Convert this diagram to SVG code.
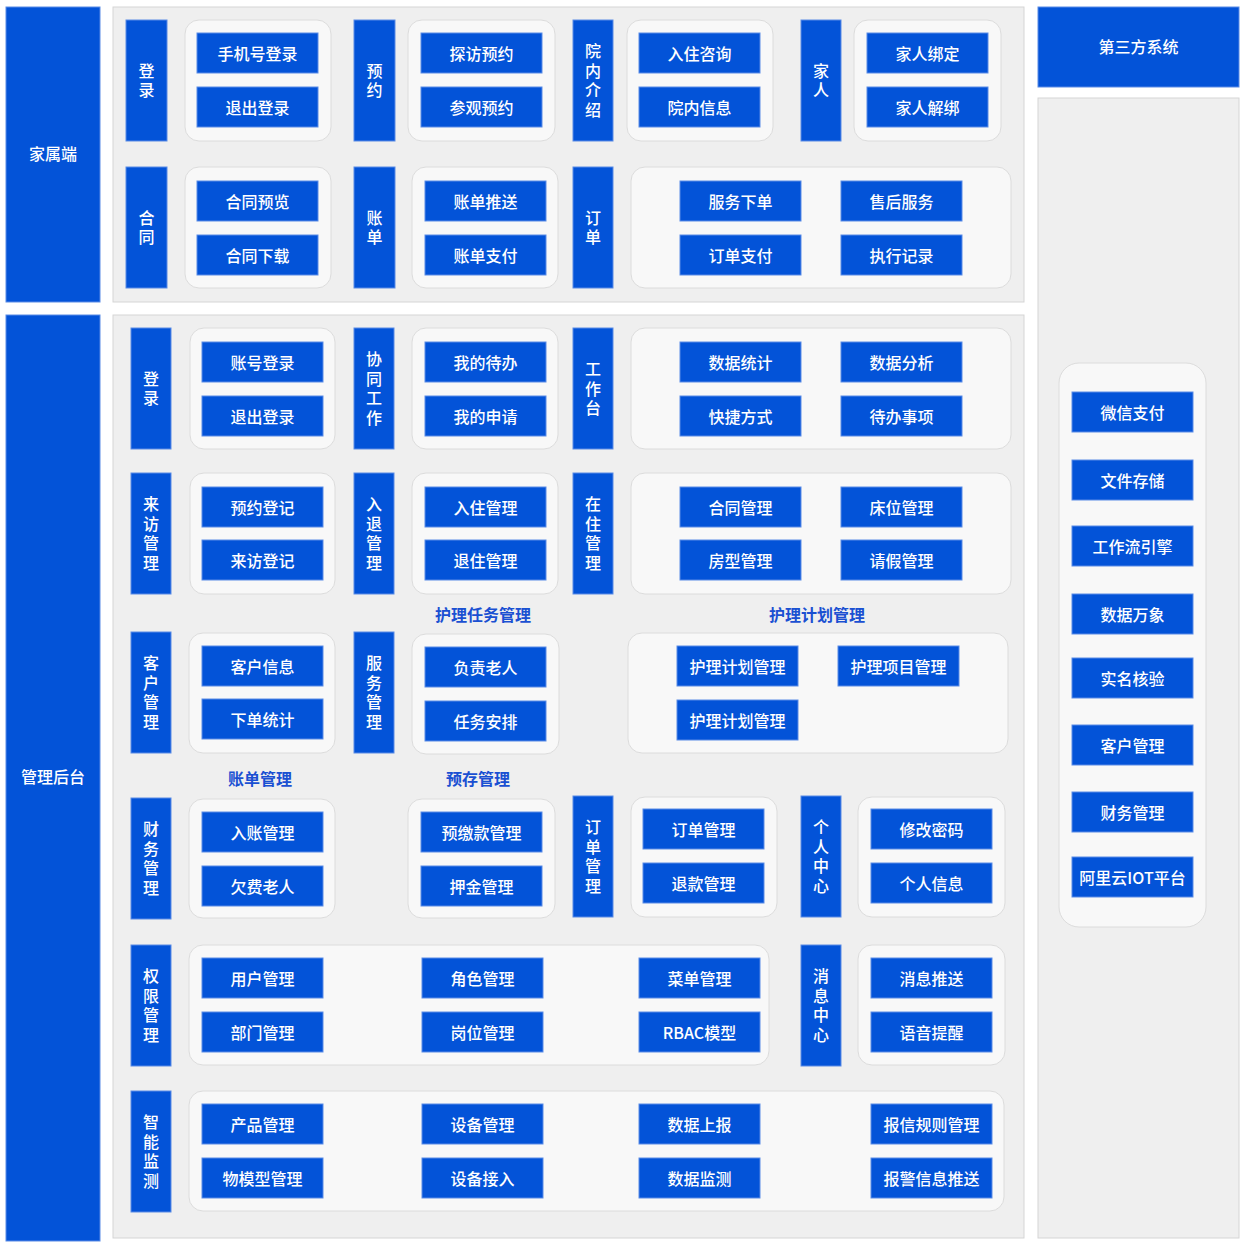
<svg xmlns="http://www.w3.org/2000/svg" width="1252" height="1248" viewBox="0 0 1252 1248">
<style>
.bg{fill:#ffffff}
.side{fill:#0353D8;stroke:#5a8be6;stroke-width:1}
.panel{fill:#EFEFEF;stroke:#D5D5D5;stroke-width:1}
.box{fill:#F8F8F8;stroke:#DCDCDC;stroke-width:1}
.lbl{fill:#0353D8;stroke:#5a8be6;stroke-width:1}
.btn{fill:#0353D8;stroke:#5a8be6;stroke-width:1}
.t{fill:#ffffff;font-family:"Noto Sans CJK SC","Noto Sans",sans-serif;font-size:16px;font-weight:500;text-anchor:middle;dominant-baseline:central}
.v{fill:#ffffff;font-family:"Noto Sans CJK SC","Noto Sans",sans-serif;font-size:16px;font-weight:500;text-anchor:middle;dominant-baseline:central;writing-mode:vertical-rl;text-orientation:upright;letter-spacing:3.5px}
.sec{fill:#1A50D2;font-family:"Noto Sans CJK SC","Noto Sans",sans-serif;font-size:16px;font-weight:700;text-anchor:middle;dominant-baseline:central}
</style>
<rect class="bg" x="0" y="0" width="1252" height="1248"/>
<g id="connectors"></g>

<!-- 家属端 -->
<g id="family">
<rect class="side" x="6" y="7" width="94" height="295"/>
<text class="t" x="53" y="153">家属端</text>
</g>
<rect id="family-panel" class="panel" x="113" y="7" width="911" height="295"/>

<g id="fam-login">
<rect class="lbl" x="126" y="20" width="41" height="121"/>
<text class="v" x="146.5" y="82.25">登录</text>
<rect class="box" x="185" y="20" width="146" height="121" rx="14"/>
<rect class="btn" x="197" y="33" width="121" height="40"/><text class="t" x="257.5" y="53">手机号登录</text>
<rect class="btn" x="197" y="87" width="121" height="40"/><text class="t" x="257.5" y="107">退出登录</text>
</g>
<g id="fam-reserve">
<rect class="lbl" x="354" y="20" width="41" height="121"/>
<text class="v" x="374.5" y="82.25">预约</text>
<rect class="box" x="408" y="20" width="147" height="121" rx="14"/>
<rect class="btn" x="421" y="33" width="121" height="40"/><text class="t" x="481.5" y="53">探访预约</text>
<rect class="btn" x="421" y="87" width="121" height="40"/><text class="t" x="481.5" y="107">参观预约</text>
</g>
<g id="fam-intro">
<rect class="lbl" x="573" y="20" width="40" height="121"/>
<text class="v" x="593" y="82.25">院内介绍</text>
<rect class="box" x="627" y="20" width="146" height="121" rx="14"/>
<rect class="btn" x="639" y="33" width="121" height="40"/><text class="t" x="699.5" y="53">入住咨询</text>
<rect class="btn" x="639" y="87" width="121" height="40"/><text class="t" x="699.5" y="107">院内信息</text>
</g>
<g id="fam-family">
<rect class="lbl" x="801" y="20" width="40" height="121"/>
<text class="v" x="821" y="82.25">家人</text>
<rect class="box" x="854" y="20" width="147" height="121" rx="14"/>
<rect class="btn" x="867" y="33" width="121" height="40"/><text class="t" x="927.5" y="53">家人绑定</text>
<rect class="btn" x="867" y="87" width="121" height="40"/><text class="t" x="927.5" y="107">家人解绑</text>
</g>
<g id="fam-contract">
<rect class="lbl" x="126" y="167" width="41" height="121"/>
<text class="v" x="146.5" y="229.25">合同</text>
<rect class="box" x="185" y="167" width="146" height="121" rx="14"/>
<rect class="btn" x="197" y="181" width="121" height="40"/><text class="t" x="257.5" y="201">合同预览</text>
<rect class="btn" x="197" y="235" width="121" height="40"/><text class="t" x="257.5" y="255">合同下载</text>
</g>
<g id="fam-bill">
<rect class="lbl" x="354" y="167" width="41" height="121"/>
<text class="v" x="374.5" y="229.25">账单</text>
<rect class="box" x="412" y="167" width="146" height="121" rx="14"/>
<rect class="btn" x="425" y="181" width="121" height="40"/><text class="t" x="485.5" y="201">账单推送</text>
<rect class="btn" x="425" y="235" width="121" height="40"/><text class="t" x="485.5" y="255">账单支付</text>
</g>
<g id="fam-order">
<rect class="lbl" x="573" y="167" width="40" height="121"/>
<text class="v" x="593" y="229.25">订单</text>
<rect class="box" x="631" y="167" width="380" height="121" rx="14"/>
<rect class="btn" x="680" y="181" width="121" height="40"/><text class="t" x="740.5" y="201">服务下单</text>
<rect class="btn" x="680" y="235" width="121" height="40"/><text class="t" x="740.5" y="255">订单支付</text>
<rect class="btn" x="841" y="181" width="121" height="40"/><text class="t" x="901.5" y="201">售后服务</text>
<rect class="btn" x="841" y="235" width="121" height="40"/><text class="t" x="901.5" y="255">执行记录</text>
</g>

<!-- 管理后台 -->
<g id="admin">
<rect class="side" x="6" y="315" width="94" height="926"/>
<text class="t" x="53" y="776">管理后台</text>
</g>
<rect id="admin-panel" class="panel" x="113" y="315" width="911" height="923"/>

<g id="adm-login">
<rect class="lbl" x="131" y="328" width="40" height="121"/>
<text class="v" x="151" y="390.25">登录</text>
<rect class="box" x="190" y="328" width="145" height="121" rx="14"/>
<rect class="btn" x="202" y="342" width="121" height="40"/><text class="t" x="262.5" y="362">账号登录</text>
<rect class="btn" x="202" y="396" width="121" height="40"/><text class="t" x="262.5" y="416">退出登录</text>
</g>
<g id="adm-collab">
<rect class="lbl" x="354" y="328" width="40" height="121"/>
<text class="v" x="374" y="390.25">协同工作</text>
<rect class="box" x="412" y="328" width="146" height="121" rx="14"/>
<rect class="btn" x="425" y="342" width="121" height="40"/><text class="t" x="485.5" y="362">我的待办</text>
<rect class="btn" x="425" y="396" width="121" height="40"/><text class="t" x="485.5" y="416">我的申请</text>
</g>
<g id="adm-workbench">
<rect class="lbl" x="573" y="328" width="40" height="121"/>
<text class="v" x="593" y="390.25">工作台</text>
<rect class="box" x="631" y="328" width="380" height="121" rx="14"/>
<rect class="btn" x="680" y="342" width="121" height="40"/><text class="t" x="740.5" y="362">数据统计</text>
<rect class="btn" x="680" y="396" width="121" height="40"/><text class="t" x="740.5" y="416">快捷方式</text>
<rect class="btn" x="841" y="342" width="121" height="40"/><text class="t" x="901.5" y="362">数据分析</text>
<rect class="btn" x="841" y="396" width="121" height="40"/><text class="t" x="901.5" y="416">待办事项</text>
</g>

<g id="adm-visit">
<rect class="lbl" x="131" y="473" width="40" height="121"/>
<text class="v" x="151" y="535.25">来访管理</text>
<rect class="box" x="190" y="473" width="145" height="121" rx="14"/>
<rect class="btn" x="202" y="487" width="121" height="40"/><text class="t" x="262.5" y="507">预约登记</text>
<rect class="btn" x="202" y="540" width="121" height="40"/><text class="t" x="262.5" y="560">来访登记</text>
</g>
<g id="adm-checkin">
<rect class="lbl" x="354" y="473" width="40" height="121"/>
<text class="v" x="374" y="535.25">入退管理</text>
<rect class="box" x="412" y="473" width="146" height="121" rx="14"/>
<rect class="btn" x="425" y="487" width="121" height="40"/><text class="t" x="485.5" y="507">入住管理</text>
<rect class="btn" x="425" y="540" width="121" height="40"/><text class="t" x="485.5" y="560">退住管理</text>
</g>
<g id="adm-resident">
<rect class="lbl" x="573" y="473" width="40" height="121"/>
<text class="v" x="593" y="535.25">在住管理</text>
<rect class="box" x="631" y="473" width="380" height="121" rx="14"/>
<rect class="btn" x="680" y="487" width="121" height="40"/><text class="t" x="740.5" y="507">合同管理</text>
<rect class="btn" x="680" y="540" width="121" height="40"/><text class="t" x="740.5" y="560">房型管理</text>
<rect class="btn" x="841" y="487" width="121" height="40"/><text class="t" x="901.5" y="507">床位管理</text>
<rect class="btn" x="841" y="540" width="121" height="40"/><text class="t" x="901.5" y="560">请假管理</text>
</g>

<g id="sec-labels">
<text class="sec" x="483" y="614">护理任务管理</text>
<text class="sec" x="817" y="614">护理计划管理</text>
<text class="sec" x="260" y="778">账单管理</text>
<text class="sec" x="478" y="778">预存管理</text>
</g>

<g id="adm-customer">
<rect class="lbl" x="131" y="632" width="40" height="121"/>
<text class="v" x="151" y="694.25">客户管理</text>
<rect class="box" x="189" y="633" width="146" height="120" rx="14"/>
<rect class="btn" x="202" y="646" width="121" height="40"/><text class="t" x="262.5" y="666">客户信息</text>
<rect class="btn" x="202" y="699" width="121" height="40"/><text class="t" x="262.5" y="719">下单统计</text>
</g>
<g id="adm-service">
<rect class="lbl" x="354" y="632" width="40" height="121"/>
<text class="v" x="374" y="694.25">服务管理</text>
<rect class="box" x="412" y="634" width="147" height="120" rx="14"/>
<rect class="btn" x="425" y="647" width="121" height="40"/><text class="t" x="485.5" y="667">负责老人</text>
<rect class="btn" x="425" y="701" width="121" height="40"/><text class="t" x="485.5" y="721">任务安排</text>
</g>
<g id="adm-careplan">
<rect class="box" x="628" y="633" width="380" height="120" rx="14"/>
<rect class="btn" x="677" y="646" width="121" height="40"/><text class="t" x="737.5" y="666">护理计划管理</text>
<rect class="btn" x="677" y="700" width="121" height="40"/><text class="t" x="737.5" y="720">护理计划管理</text>
<rect class="btn" x="838" y="646" width="121" height="40"/><text class="t" x="898.5" y="666">护理项目管理</text>
</g>

<g id="adm-finance">
<rect class="lbl" x="131" y="798" width="40" height="121"/>
<text class="v" x="151" y="860.25">财务管理</text>
<rect class="box" x="189" y="799" width="146" height="119" rx="14"/>
<rect class="btn" x="202" y="812" width="121" height="40"/><text class="t" x="262.5" y="832">入账管理</text>
<rect class="btn" x="202" y="866" width="121" height="40"/><text class="t" x="262.5" y="886">欠费老人</text>
</g>
<g id="adm-deposit">
<rect class="box" x="408" y="799" width="147" height="119" rx="14"/>
<rect class="btn" x="421" y="812" width="121" height="40"/><text class="t" x="481.5" y="832">预缴款管理</text>
<rect class="btn" x="421" y="866" width="121" height="40"/><text class="t" x="481.5" y="886">押金管理</text>
</g>
<g id="adm-order">
<rect class="lbl" x="573" y="796" width="40" height="121"/>
<text class="v" x="593" y="858.25">订单管理</text>
<rect class="box" x="631" y="797" width="146" height="120" rx="14"/>
<rect class="btn" x="643" y="809" width="121" height="40"/><text class="t" x="703.5" y="829">订单管理</text>
<rect class="btn" x="643" y="863" width="121" height="40"/><text class="t" x="703.5" y="883">退款管理</text>
</g>
<g id="adm-personal">
<rect class="lbl" x="801" y="796" width="40" height="121"/>
<text class="v" x="821" y="858.25">个人中心</text>
<rect class="box" x="858" y="797" width="147" height="120" rx="14"/>
<rect class="btn" x="871" y="809" width="121" height="40"/><text class="t" x="931.5" y="829">修改密码</text>
<rect class="btn" x="871" y="863" width="121" height="40"/><text class="t" x="931.5" y="883">个人信息</text>
</g>

<g id="adm-permission">
<rect class="lbl" x="131" y="945" width="40" height="121"/>
<text class="v" x="151" y="1007.25">权限管理</text>
<rect class="box" x="189" y="945" width="580" height="120" rx="14"/>
<rect class="btn" x="202" y="958" width="121" height="40"/><text class="t" x="262.5" y="978">用户管理</text>
<rect class="btn" x="202" y="1012" width="121" height="40"/><text class="t" x="262.5" y="1032">部门管理</text>
<rect class="btn" x="422" y="958" width="121" height="40"/><text class="t" x="482.5" y="978">角色管理</text>
<rect class="btn" x="422" y="1012" width="121" height="40"/><text class="t" x="482.5" y="1032">岗位管理</text>
<rect class="btn" x="639" y="958" width="121" height="40"/><text class="t" x="699.5" y="978">菜单管理</text>
<rect class="btn" x="639" y="1012" width="121" height="40"/><text class="t" x="699.5" y="1032">RBAC模型</text>
</g>
<g id="adm-message">
<rect class="lbl" x="801" y="945" width="40" height="121"/>
<text class="v" x="821" y="1007.25">消息中心</text>
<rect class="box" x="858" y="945" width="147" height="120" rx="14"/>
<rect class="btn" x="871" y="958" width="121" height="40"/><text class="t" x="931.5" y="978">消息推送</text>
<rect class="btn" x="871" y="1012" width="121" height="40"/><text class="t" x="931.5" y="1032">语音提醒</text>
</g>

<g id="adm-monitor">
<rect class="lbl" x="131" y="1091" width="40" height="121"/>
<text class="v" x="151" y="1153.25">智能监测</text>
<rect class="box" x="189" y="1091" width="815" height="120" rx="14"/>
<rect class="btn" x="202" y="1104" width="121" height="40"/><text class="t" x="262.5" y="1124">产品管理</text>
<rect class="btn" x="202" y="1158" width="121" height="40"/><text class="t" x="262.5" y="1178">物模型管理</text>
<rect class="btn" x="422" y="1104" width="121" height="40"/><text class="t" x="482.5" y="1124">设备管理</text>
<rect class="btn" x="422" y="1158" width="121" height="40"/><text class="t" x="482.5" y="1178">设备接入</text>
<rect class="btn" x="639" y="1104" width="121" height="40"/><text class="t" x="699.5" y="1124">数据上报</text>
<rect class="btn" x="639" y="1158" width="121" height="40"/><text class="t" x="699.5" y="1178">数据监测</text>
<rect class="btn" x="871" y="1104" width="121" height="40"/><text class="t" x="931.5" y="1124">报信规则管理</text>
<rect class="btn" x="871" y="1158" width="121" height="40"/><text class="t" x="931.5" y="1178">报警信息推送</text>
</g>

<!-- 第三方系统 -->
<g id="third">
<rect class="side" x="1038" y="7" width="201" height="80"/>
<text class="t" x="1138.5" y="46">第三方系统</text>
</g>
<rect id="third-panel" class="panel" x="1038" y="98" width="201" height="1140"/>
<g id="third-services">
<rect class="box" x="1059" y="363" width="147" height="564" rx="20"/>
<rect class="btn" x="1072" y="392" width="121" height="40"/><text class="t" x="1132.5" y="412">微信支付</text>
<rect class="btn" x="1072" y="460" width="121" height="40"/><text class="t" x="1132.5" y="480">文件存储</text>
<rect class="btn" x="1072" y="526" width="121" height="40"/><text class="t" x="1132.5" y="546">工作流引擎</text>
<rect class="btn" x="1072" y="594" width="121" height="40"/><text class="t" x="1132.5" y="614">数据万象</text>
<rect class="btn" x="1072" y="658" width="121" height="40"/><text class="t" x="1132.5" y="678">实名核验</text>
<rect class="btn" x="1072" y="725" width="121" height="40"/><text class="t" x="1132.5" y="745">客户管理</text>
<rect class="btn" x="1072" y="792" width="121" height="40"/><text class="t" x="1132.5" y="812">财务管理</text>
<rect class="btn" x="1072" y="857" width="121" height="40"/><text class="t" x="1132.5" y="877">阿里云IOT平台</text>
</g>
</svg>
